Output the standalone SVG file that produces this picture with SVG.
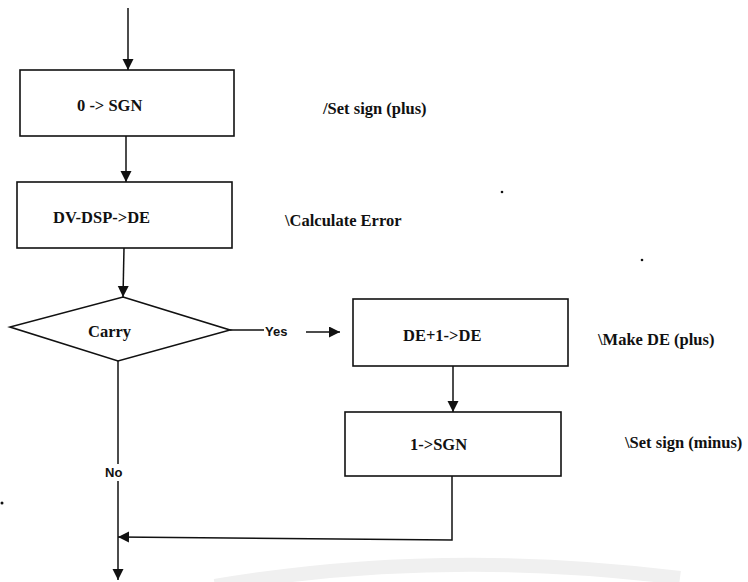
<svg xmlns="http://www.w3.org/2000/svg" width="748" height="582" viewBox="0 0 748 582">
  <style>
    .box { fill: #fff; stroke: #111; stroke-width: 1.6; }
    .wire { fill: none; stroke: #111; stroke-width: 1.5; }
    .lbl { font-family: "Liberation Serif", "Times New Roman", serif; font-weight: bold; font-size: 16.5px; fill: #111; }
    .note { font-family: "Liberation Serif", "Times New Roman", serif; font-weight: bold; font-size: 16.5px; fill: #111; }
    .tag { font-family: "Liberation Sans", Arial, sans-serif; font-weight: bold; font-size: 13px; fill: #111; }
  </style>
  <defs>
    <marker id="arrow" markerUnits="userSpaceOnUse" markerWidth="12" markerHeight="12" refX="11" refY="5.5" orient="auto">
      <path d="M0,0 L11,5.5 L0,11 z" fill="#111"/>
    </marker>
  </defs>

  <rect width="748" height="582" fill="#fff"/>
  <!-- faint background arc -->
  <path d="M215,586 Q440,548 680,578" fill="none" stroke="#f0f0f0" stroke-width="14"/>

  <!-- connectors -->
  <g id="connectors">
    <line class="wire" x1="128" y1="8" x2="128" y2="70" marker-end="url(#arrow)"/>
    <line class="wire" x1="126" y1="136" x2="126" y2="182" marker-end="url(#arrow)"/>
    <line class="wire" x1="124" y1="248" x2="123" y2="297" marker-end="url(#arrow)"/>
    <line class="wire" x1="230" y1="330" x2="264" y2="330"/>
    <line class="wire" x1="306" y1="332" x2="340" y2="332" marker-end="url(#arrow)"/>
    <line class="wire" x1="453" y1="366" x2="453" y2="412" marker-end="url(#arrow)"/>
    <polyline class="wire" points="452,476 452,540 118,537" marker-end="url(#arrow)"/>
    <line class="wire" x1="118" y1="361" x2="118" y2="464"/>
    <line class="wire" x1="118" y1="481" x2="118" y2="580" marker-end="url(#arrow)"/>
    <text class="tag" x="265" y="336">Yes</text>
    <text class="tag" x="105" y="477">No</text>
  </g>

  <g id="set-sign-plus">
    <rect class="box" x="20" y="70" width="214" height="66"/>
    <text class="lbl" x="77" y="111">0 -&gt; SGN</text>
  </g>
  <text class="note" x="323" y="114">/Set sign (plus)</text>

  <g id="calc-error">
    <rect class="box" x="17" y="182" width="215" height="66"/>
    <text class="lbl" x="53" y="223">DV-DSP-&gt;DE</text>
  </g>
  <text class="note" x="285" y="226">\Calculate Error</text>

  <g id="carry">
    <polygon class="box" points="123,297 230,330 118,361 10,327"/>
    <text class="lbl" x="88" y="337">Carry</text>
  </g>

  <g id="make-de-plus">
    <rect class="box" x="353" y="299" width="215" height="67"/>
    <text class="lbl" x="403" y="341">DE+1-&gt;DE</text>
  </g>
  <text class="note" x="598" y="345">\Make DE (plus)</text>

  <g id="set-sign-minus">
    <rect class="box" x="345" y="412" width="216" height="64"/>
    <text class="lbl" x="410" y="450">1-&gt;SGN</text>
  </g>
  <text class="note" x="625" y="448">\Set sign (minus)</text>

  <!-- specks -->
  <circle cx="502" cy="192" r="1.3" fill="#111"/>
  <circle cx="642" cy="260" r="1.3" fill="#111"/>
  <circle cx="2" cy="503" r="1.5" fill="#111"/>
</svg>
